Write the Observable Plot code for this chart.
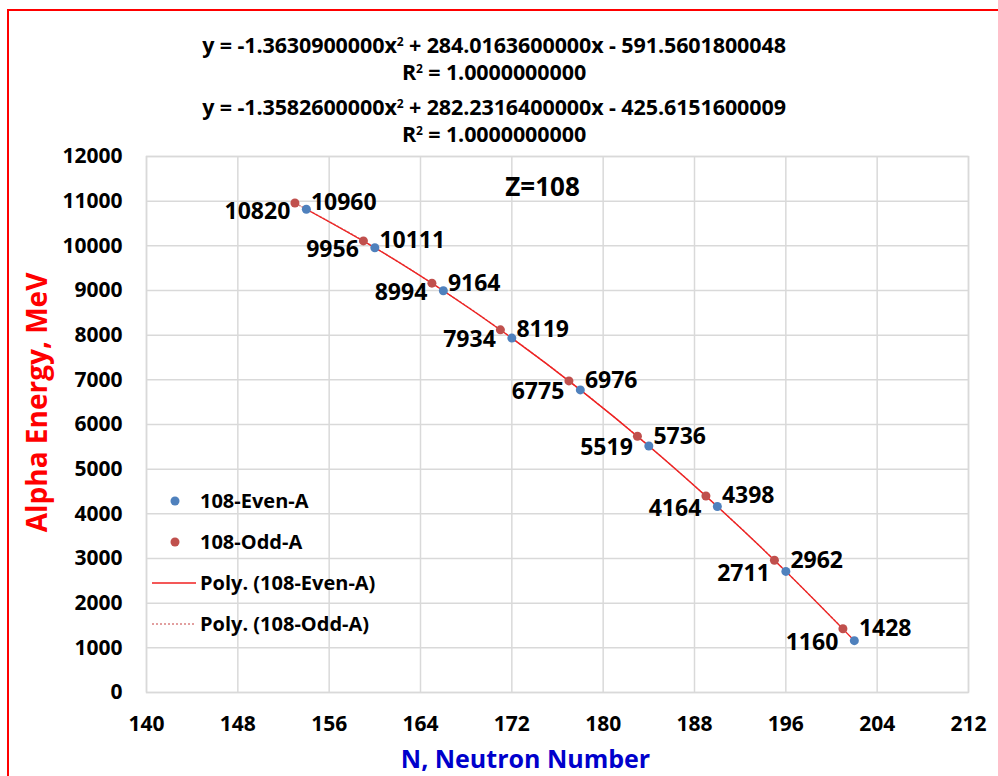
<!DOCTYPE html>
<html>
<head>
<meta charset="utf-8">
<script src="https://cdn.jsdelivr.net/npm/d3@7"></script>
<script src="https://cdn.jsdelivr.net/npm/@observablehq/plot@0.6"></script>
<style>
  html, body { margin: 0; padding: 0; background: #fff; }
  #wrap { position: relative; width: 998px; height: 776px; overflow: hidden; font-family: "Open Sans", sans-serif; }
  #border { position: absolute; left: 7px; top: 9px; width: 1000px; height: 900px; border-left: 2px solid #ff0000; border-top: 2px solid #ff0000; }
  .eq { position: absolute; left: 0; width: 988px; text-align: center; font-weight: bold; font-size: 21.5px; color: #000; line-height: 1; letter-spacing: -0.1px; }
  .eq sup { font-size: 12px; vertical-align: 0.6em; }
  #legend { position: absolute; left: 150px; top: 480px; font-weight: bold; font-size: 20px; color: #000; }
  .row { display: flex; align-items: center; height: 41px; }
  .sw { width: 50px; height: 20px; }
  #chart { position: absolute; left: 0; top: 0; }
</style>
</head>
<body>
<div id="wrap">
  <div id="chart"></div>
  <div id="border"></div>
  <div class="eq" style="top:34px">y = -1.3630900000x<sup>2</sup> + 284.0163600000x - 591.5601800048</div>
  <div class="eq" style="top:61px">R<sup>2</sup> = 1.0000000000</div>
  <div class="eq" style="top:96px">y = -1.3582600000x<sup>2</sup> + 282.2316400000x - 425.6151600009</div>
  <div class="eq" style="top:123px">R<sup>2</sup> = 1.0000000000</div>
  <div id="legend"></div>
</div>
<script>
// Data
const evenN = [154, 160, 166, 172, 178, 184, 190, 196, 202];
const evenE = [10820, 9956, 8994, 7934, 6775, 5519, 4164, 2711, 1160];
const oddN  = [153, 159, 165, 171, 177, 183, 189, 195, 201];
const oddE  = [10960, 10111, 9164, 8119, 6976, 5736, 4398, 2962, 1428];
const xTicks = [140, 148, 156, 164, 172, 180, 188, 196, 204, 212];
const yTicks = [0, 1000, 2000, 3000, 4000, 5000, 6000, 7000, 8000, 9000, 10000, 11000, 12000];
const seriesNames = ["108-Even-A", "108-Odd-A", "Poly. (108-Even-A)", "Poly. (108-Odd-A)"];

const even = evenN.map((n, i) => ({n, e: evenE[i]}));
const odd = oddN.map((n, i) => ({n, e: oddE[i]}));

const blue = "#4f81bd", red = "#c0504d", trend = "#f02020", trendDot = "#d98080";
const grid = "#d9d9d9";

const chart = Plot.plot({
  width: 998,
  height: 776,
  marginLeft: 146,
  marginRight: 30,
  marginTop: 156,
  marginBottom: 84,
  style: {fontFamily: "Open Sans, sans-serif", background: "transparent"},
  x: {domain: [140, 212], ticks: xTicks},
  y: {domain: [0, 12000], ticks: yTicks},
  marks: [
    Plot.gridX(xTicks, {stroke: grid, strokeOpacity: 1, strokeWidth: 1.5}),
    Plot.gridY(yTicks, {stroke: grid, strokeOpacity: 1, strokeWidth: 1.5}),
    Plot.frame({stroke: grid, strokeWidth: 1.5}),
    Plot.axisX(xTicks, {tickSize: 0, tickPadding: 24, fontSize: 21, fontWeight: "bold", fill: "#000", label: null}),
    Plot.axisY(yTicks, {tickSize: 0, tickPadding: 24, fontSize: 21, fontWeight: "bold", fill: "#000", label: null, tickFormat: d => String(d)}),
    Plot.line(odd, {x: "n", y: "e", stroke: trendDot, strokeWidth: 1.5, strokeDasharray: "2,2", curve: "natural"}),
    Plot.line(even, {x: "n", y: "e", stroke: trend, strokeWidth: 1.3, curve: "natural"}),
    Plot.dot(odd, {x: "n", y: "e", r: 4.5, fill: red}),
    Plot.dot(even, {x: "n", y: "e", r: 4.5, fill: blue}),
    Plot.text(even, {x: "n", y: "e", text: d => String(d.e), textAnchor: "end", dx: -16, dy: 2, fontSize: 23, fontWeight: "bold", fill: "#000"}),
    Plot.text(odd, {x: "n", y: "e", text: d => String(d.e), textAnchor: "start", dx: 16, dy: 0, fontSize: 23, fontWeight: "bold", fill: "#000"}),
    Plot.text(["Z=108"], {frameAnchor: "top", textAnchor: "middle", lineAnchor: "middle", dx: -15, dy: 31, fontSize: 26, fontWeight: "bold", fill: "#000"}),
    Plot.text(["N, Neutron Number"], {frameAnchor: "bottom", textAnchor: "middle", lineAnchor: "middle", dx: -32, dy: 67, fontSize: 25, fontWeight: "bold", fill: "#0000cc"}),
    Plot.text(["Alpha Energy, MeV"], {frameAnchor: "left", textAnchor: "middle", lineAnchor: "middle", rotate: -90, dx: -108, dy: -22, fontSize: 28, fontWeight: "bold", fill: "#ff0000"})
  ]
});
document.getElementById("chart").appendChild(chart);

// Legend
const legend = document.getElementById("legend");
const sw = [
  `<svg class="sw" viewBox="0 0 50 20"><circle cx="25" cy="10" r="4.5" fill="${blue}"/></svg>`,
  `<svg class="sw" viewBox="0 0 50 20"><circle cx="25" cy="10" r="4.5" fill="${red}"/></svg>`,
  `<svg class="sw" viewBox="0 0 50 20"><line x1="2" x2="46" y1="10" y2="10" stroke="${trend}" stroke-width="1.5"/></svg>`,
  `<svg class="sw" viewBox="0 0 50 20"><line x1="2" x2="46" y1="10" y2="10" stroke="${trendDot}" stroke-width="1.5" stroke-dasharray="2,2"/></svg>`
];
seriesNames.forEach((name, i) => {
  const row = document.createElement("div");
  row.className = "row";
  row.innerHTML = sw[i] + `<span>${name}</span>`;
  legend.appendChild(row);
});
</script>
</body>
</html>
